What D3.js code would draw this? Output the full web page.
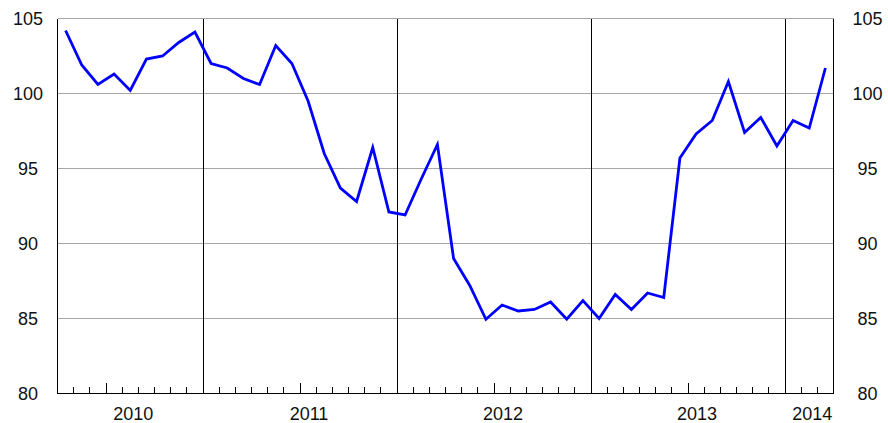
<!DOCTYPE html>
<html>
<head>
<meta charset="utf-8">
<script src="https://cdn.jsdelivr.net/npm/d3@7"></script>
<style>
  html, body { margin: 0; padding: 0; background: #fff; }
  svg { display: block; font-family: "Liberation Sans", Arial, sans-serif; }
  .crisp line { shape-rendering: crispEdges; }
</style>
</head>
<body>
<div id="chart"></div>
<script>
// Dados mensais, abr/2010 a mar/2014
const firstYear = 2010;
const firstMonth = 4; // abril
const values = [
  104.2, 101.9, 100.6, 101.3, 100.2, 102.3, 102.5, 103.4, 104.1,
  102.0, 101.7, 101.0, 100.6, 103.2, 102.0, 99.5, 96.0, 93.7, 92.8, 96.4, 92.1, 91.9,
  94.3, 96.6, 89.0, 87.2, 84.95, 85.9, 85.5, 85.6, 86.1, 84.95, 86.2, 85.0,
  86.6, 85.6, 86.7, 86.4, 95.7, 97.3, 98.2, 100.8, 97.4, 98.4, 96.5, 98.2,
  97.7, 101.7
];
const yearLabels = ['2010', '2011', '2012', '2013', '2014'];
const yTicks = [80, 85, 90, 95, 100, 105];

const width = 888, height = 423;
const margin = { top: 18.5, right: 54.5, bottom: 29.5, left: 57.5 };

const svg = d3.select('#chart')
  .append('svg')
  .attr('width', width)
  .attr('height', height);

// Escalas: x em meses (bordas), y em pontos do índice
const nMonths = values.length;
const x = d3.scaleLinear()
  .domain([0, nMonths])
  .range([margin.left, width - margin.right]);
const y = d3.scaleLinear()
  .domain([80, 105])
  .range([height - margin.bottom, margin.top]);

// Grade horizontal
svg.append('g')
  .attr('class', 'crisp')
  .selectAll('line')
  .data(yTicks.filter(d => d > 80))
  .enter().append('line')
  .attr('x1', x(0)).attr('x2', x(nMonths))
  .attr('y1', d => y(d)).attr('y2', d => y(d))
  .attr('stroke', '#a6a6a6')
  .attr('stroke-width', 1);

// Linhas verticais na virada de cada ano (janeiro)
const monthOf = i => (firstMonth - 1 + i) % 12; // 0 = jan
const boundaries = d3.range(1, nMonths).filter(i => monthOf(i) === 0);
svg.append('g')
  .attr('class', 'crisp')
  .selectAll('line')
  .data(boundaries)
  .enter().append('line')
  .attr('x1', d => x(d)).attr('x2', d => x(d))
  .attr('y1', y(105)).attr('y2', y(80))
  .attr('stroke', '#000')
  .attr('stroke-width', 1);

// Marcas mensais no eixo x (maiores em julho)
svg.append('g')
  .attr('class', 'crisp')
  .selectAll('line')
  .data(d3.range(1, nMonths).filter(i => monthOf(i) !== 0))
  .enter().append('line')
  .attr('x1', d => x(d)).attr('x2', d => x(d))
  .attr('y1', y(80))
  .attr('y2', d => y(80) - (monthOf(d) === 6 ? 10.5 : 7))
  .attr('stroke', '#000')
  .attr('stroke-width', 1);

// Moldura: base e laterais
const frame = svg.append('g').attr('class', 'crisp').attr('stroke', '#000').attr('stroke-width', 1);
frame.append('line')
  .attr('x1', x(0)).attr('x2', x(nMonths))
  .attr('y1', y(80)).attr('y2', y(80));
frame.append('line')
  .attr('x1', x(0)).attr('x2', x(0))
  .attr('y1', y(105)).attr('y2', y(80));
frame.append('line')
  .attr('x1', x(nMonths)).attr('x2', x(nMonths))
  .attr('y1', y(105)).attr('y2', y(80));

// Rótulos do eixo y (esquerda e direita)
[28, 867.5].forEach(cx => {
  svg.append('g')
    .selectAll('text')
    .data(yTicks)
    .enter().append('text')
    .attr('x', cx)
    .attr('y', d => y(d))
    .attr('dy', '0.35em')
    .attr('text-anchor', 'middle')
    .attr('font-size', 18)
    .attr('fill', '#111')
    .text(d => d);
});

// Rótulos dos anos, centrados em cada segmento
const edges = [0, ...boundaries, nMonths];
svg.append('g')
  .selectAll('text')
  .data(yearLabels)
  .enter().append('text')
  .attr('x', (d, i) => {
    const span = edges[i + 1] - edges[i];
    return x((edges[i] + edges[i + 1]) / 2) + (span === 12 ? 9 : 3);
  })
  .attr('y', 419.5)
  .attr('text-anchor', 'middle')
  .attr('font-size', 18)
  .attr('fill', '#111')
  .text(d => d);

// Série
const line = d3.line()
  .x((d, i) => x(i + 0.5))
  .y(d => y(d));

svg.append('path')
  .datum(values)
  .attr('fill', 'none')
  .attr('stroke', '#0000ff')
  .attr('stroke-width', 2.8)
  .attr('stroke-linejoin', 'miter')
  .attr('d', line);
</script>
</body>
</html>
